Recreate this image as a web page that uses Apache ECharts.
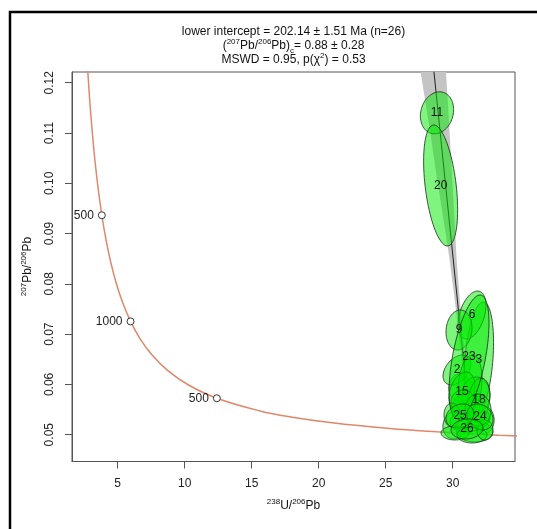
<!DOCTYPE html>
<html><head><meta charset="utf-8">
<script src="https://cdn.jsdelivr.net/npm/echarts@6/dist/echarts.min.js"></script>
<style>html,body{margin:0;padding:0;background:#fff;}#c{width:537px;height:529px;}</style>
</head><body><div id="c"></div>
<script>
// ---- data ----
const xTicks = [5, 10, 15, 20, 25, 30];
const yTicks = [0.05, 0.06, 0.07, 0.08, 0.09, 0.10, 0.11, 0.12];

// concordia curve points (238U/206Pb, 207Pb/206Pb)
const concX = [2.749, 2.917, 3.105, 3.314, 3.550, 3.817, 4.123, 4.476, 4.888, 5.375, 5.959, 6.674, 7.568, 8.718, 10.252, 12.399, 15.621, 17.923, 20.992, 25.289, 28.805, 31.735, 33.431, 35.316];
const concY = [0.12304, 0.11635, 0.11009, 0.10424, 0.09876, 0.09364, 0.08885, 0.08436, 0.08016, 0.07622, 0.07253, 0.06907, 0.06583, 0.06279, 0.05993, 0.05725, 0.05473, 0.05352, 0.05236, 0.05123, 0.05057, 0.05013, 0.04991, 0.04970];

// age markers on the concordia
const ageX = [12.399, 5.959, 3.817];
const ageY = [0.05725, 0.07253, 0.09364];
const ageLabels = ['500', '1000', '500'];

// discordia line and its error envelope
const discX = [28.60, 31.38];
const discY = [0.1222, 0.0501];
const bandY  = [0.1222, 0.110, 0.100, 0.090, 0.085, 0.078, 0.070, 0.060, 0.050];
const bandLo = [27.60, 28.33, 28.88, 29.48, 29.76, 30.10, 30.46, 30.86, 31.23];
const bandHi = [29.50, 29.77, 29.99, 30.19, 30.29, 30.49, 30.76, 31.12, 31.53];

// error ellipses: centre, half-extents, correlation, label
const ellX   = [30.54, 30.32, 31.95, 32.34, 31.29, 31.44, 30.17, 31.66, 30.47, 30.99, 28.83, 31.29, 31.74, 30.17, 30.69, 31.44, 32.41, 31.96, 30.77, 29.10, 29.95, 31.89, 31.22, 32.04, 30.54, 31.07];
const ellY   = [0.05929, 0.06287, 0.06486, 0.05292, 0.05988, 0.07380, 0.05193, 0.05054, 0.07082, 0.05531, 0.11401, 0.05292, 0.05790, 0.05034, 0.05849, 0.04994, 0.05093, 0.05690, 0.05650, 0.09956, 0.05392, 0.05491, 0.06545, 0.05352, 0.05372, 0.05113];
const ellSX  = [0.82, 1.04, 1.10, 0.75, 0.90, 1.04, 0.90, 1.34, 0.97, 1.04, 1.24, 1.49, 1.04, 1.04, 0.97, 1.12, 0.60, 0.82, 0.90, 1.27, 0.60, 0.97, 1.49, 0.97, 1.04, 1.19];
const ellSY  = [0.00278, 0.00298, 0.01153, 0.00278, 0.00597, 0.00477, 0.00278, 0.00199, 0.00398, 0.00278, 0.00418, 0.00239, 0.00358, 0.00139, 0.00398, 0.00159, 0.00199, 0.00437, 0.00239, 0.01203, 0.00239, 0.00318, 0.01233, 0.00259, 0.00239, 0.00199];
const ellRho = [0, 0.4, 0.3, 0, 0.2, 0.4, 0.1, 0, 0.1, 0, 0.15, 0.2, 0, 0, 0.3, 0, 0, 0.2, 0, -0.4, 0, 0, 0.55, -0.2, 0.2, 0.1];
const ellLabel = ['', '2', '3', '', '', '6', '', '', '9', '', '11', '', '', '', '15', '', '', '18', '', '20', '', '', '23', '24', '25', '26'];

// ---- chart ----
const FF = "'Liberation Sans', Arial, sans-serif";
const chart = echarts.init(document.getElementById('c'), null, {renderer: 'canvas'});
const supRich = {
  sup: {fontSize: 8, fontFamily: FF, padding: [0, 0, 9, 0], fill: '#111', color: '#111'},
  sub: {fontSize: 8, fontFamily: FF, padding: [9, 0, 0, 0], fill: '#111', color: '#111'}
};

function ellipsePoints(i, api) {
  const cx = ellX[i], cy = ellY[i], sx = ellSX[i], sy = ellSY[i], r = ellRho[i];
  const s = Math.sqrt(1 - r * r);
  const pts = [];
  for (let k = 0; k < 90; k++) {
    const t = 2 * Math.PI * k / 90;
    pts.push(api.coord([cx + sx * Math.cos(t), cy + sy * (r * Math.cos(t) + s * Math.sin(t))]));
  }
  return pts;
}

const option = {
  animation: false,
  grid: {left: 72, top: 72, right: 22, bottom: 67.5, show: true, borderColor: '#555', borderWidth: 1, backgroundColor: 'transparent'},
  xAxis: {
    type: 'value', min: 1.59, max: 34.65,
    axisLine: {show: true, lineStyle: {color: '#555', width: 1}},
    axisTick: {show: true, customValues: xTicks, length: 7, lineStyle: {color: '#555'}},
    axisLabel: {customValues: xTicks, color: '#222', fontSize: 12, fontFamily: FF, margin: 16},
    splitLine: {show: false}
  },
  yAxis: {
    type: 'value', min: 0.04467, max: 0.12213,
    axisLine: {show: true, lineStyle: {color: '#555', width: 1}},
    axisTick: {show: true, customValues: yTicks, length: 7, lineStyle: {color: '#555'}},
    axisLabel: {customValues: yTicks, rotate: 90, color: '#222', fontSize: 12, fontFamily: FF, margin: 16,
      formatter: v => v.toFixed(2)},
    splitLine: {show: false}
  },
  graphic: [
    {type: 'rect', shape: {x: 10, y: 12, width: 600, height: 600}, style: {fill: 'none', stroke: '#000', lineWidth: 2.5}, silent: true},
    {type: 'text', x: 293.5, y: 32, style: {text: 'lower intercept = 202.14 \u00b1 1.51 Ma (n=26)', font: '12px ' + FF, fill: '#111', align: 'center', verticalAlign: 'middle'}},
    {type: 'text', x: 293.5, y: 46, style: {text: '({sup|207}Pb/{sup|206}Pb){sub|c}= 0.88 \u00b1 0.28', font: '12px ' + FF, fill: '#111', align: 'center', verticalAlign: 'middle', rich: supRich}},
    {type: 'text', x: 293.5, y: 60, style: {text: 'MSWD = 0.95, p(\u03c7{sup|2}) = 0.53', font: '12px ' + FF, fill: '#111', align: 'center', verticalAlign: 'middle', rich: supRich}},
    {type: 'text', x: 293.5, y: 506, style: {text: '{sup|238}U/{sup|206}Pb', font: '12px ' + FF, fill: '#111', align: 'center', verticalAlign: 'middle', rich: supRich}},
    {type: 'text', x: 28, y: 266.5, rotation: Math.PI / 2, style: {text: '{sup|207}Pb/{sup|206}Pb', font: '12px ' + FF, fill: '#111', align: 'center', verticalAlign: 'middle', rich: supRich}}
  ],
  series: [
    {
      type: 'custom', clip: true, z: 1,
      data: [[bandLo[0], bandY[0]]],
      renderItem: (params, api) => {
        const pts = [];
        for (let k = 0; k < bandY.length; k++) pts.push(api.coord([bandLo[k], bandY[k]]));
        for (let k = bandY.length - 1; k >= 0; k--) pts.push(api.coord([bandHi[k], bandY[k]]));
        return {type: 'polygon', shape: {points: pts}, style: {fill: '#c4c4c4', stroke: 'none'}};
      }
    },
    {
      type: 'line', z: 2, clip: true, symbol: 'none',
      data: discX.map((x, i) => [x, discY[i]]),
      lineStyle: {color: '#222', width: 1}
    },
    {
      type: 'line', z: 2, clip: true, symbol: 'none', smooth: 0.4,
      data: concX.map((x, i) => [x, concY[i]]),
      lineStyle: {color: '#e0876a', width: 1.5}
    },
    {
      type: 'scatter', z: 3, symbol: 'circle', symbolSize: 7,
      data: ageX.map((x, i) => [x, ageY[i], ageLabels[i]]),
      itemStyle: {color: '#fff', borderColor: '#333', borderWidth: 1, opacity: 1},
      label: {show: true, position: 'left', distance: 4, formatter: p => p.value[2], color: '#222', fontSize: 12, fontFamily: FF}
    },
    {
      type: 'custom', clip: true, z: 4,
      data: ellX.map((x, i) => [x, ellY[i]]),
      renderItem: (params, api) => ({
        type: 'polygon', shape: {points: ellipsePoints(params.dataIndex, api)},
        style: {fill: 'rgba(0,235,0,0.5)', stroke: '#1a2a1a', lineWidth: 0.8}
      })
    },
    {
      type: 'custom', clip: false, z: 5,
      data: ellX.map((x, i) => [x, ellY[i]]),
      renderItem: (params, api) => {
        const p = api.coord([ellX[params.dataIndex], ellY[params.dataIndex]]);
        return {type: 'text', x: p[0], y: p[1], style: {text: ellLabel[params.dataIndex], font: '12px ' + FF, fill: '#111', align: 'center', verticalAlign: 'middle'}};
      }
    }
  ]
};
chart.setOption(option);
</script>
</body></html>
